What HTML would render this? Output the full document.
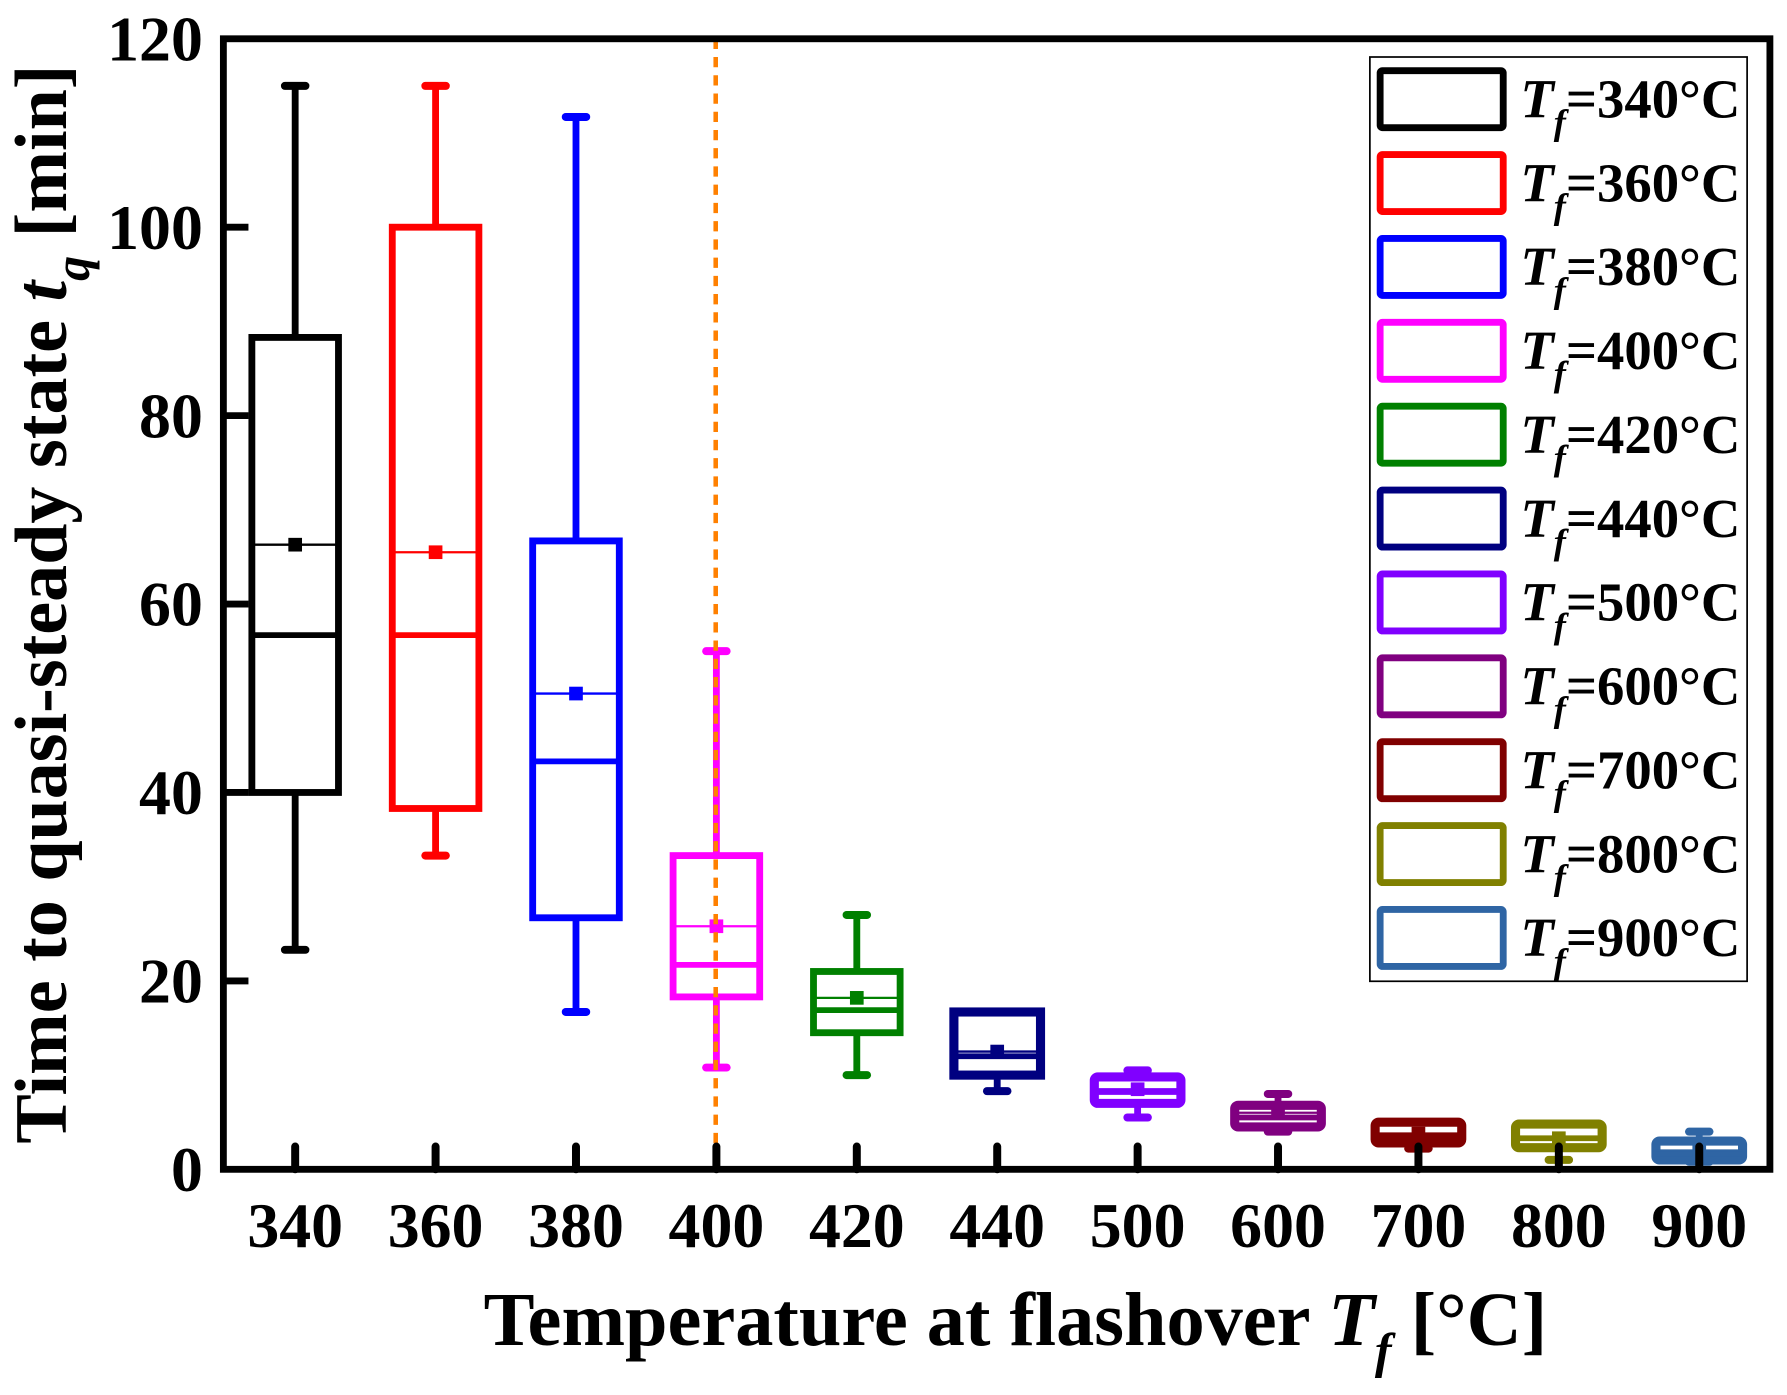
<!DOCTYPE html>
<html><head><meta charset="utf-8"><style>
html,body{margin:0;padding:0;background:#fff}
svg{display:block}
text{font-family:"Liberation Serif","Times New Roman",serif;font-weight:bold;fill:#000}
</style></head><body>
<svg id="chart" width="1787" height="1395" viewBox="0 0 1568 1224" xmlns="http://www.w3.org/2000/svg">
<g id="marks"></g>
<rect x="196" y="34" width="1357" height="992" fill="none" stroke="#000" stroke-width="6"/>
<g id="axes"></g>
<text x="891" y="1180" font-size="67" text-anchor="middle">Temperature at flashover <tspan font-style="italic">T</tspan><tspan font-style="italic" font-size="44" dy="20">f</tspan><tspan dy="-20"> [°C]</tspan></text>
<text transform="translate(58,530) rotate(-90)" font-size="65" text-anchor="middle">Time to quasi-steady state <tspan font-style="italic">t</tspan><tspan font-style="italic" font-size="44" dy="20">q</tspan><tspan dy="-20"> [min]</tspan></text>
<g id="legend"></g>
</svg>
<script>
const categories = ["340","360","380","400","420","440","500","600","700","800","900"];
const colors = ["#000000","#ff0000","#0000ff","#ff00ff","#008000","#000080","#8000ff","#800080","#800000","#808000","#2f65a4"];
const maxV = [115,115,111.7,55,27,16.7,10.5,8,5,4.5,4];
const q3V = [88.3,100,66.7,33.3,21,16.7,9.8,6.8,5,4.8,3];
const meanV = [66.3,65.5,50.5,25.8,18.2,12.5,8.5,6,3.8,3.3,2];
const medV = [56.7,56.7,43.3,21.7,16.9,12,8.2,5.5,3.5,3.3,1.7];
const q1V = [40,38.3,26.7,18.3,14.5,10,7,4.5,2.8,2.3,1];
const minV = [23.3,33.3,16.7,10.8,10,8.3,5.5,4,2.2,1,0.8];
const yTicks = [0,20,40,60,80,100,120];
const NS="http://www.w3.org/2000/svg";
const L=196,R=1553,T=34,B=1026;
const y = v => B - (v/120)*(B-T);
const x = i => 259 + i*123.2;
function mk(tag, attrs, parent){const e=document.createElementNS(NS,tag);for(const k in attrs)e.setAttribute(k,attrs[k]);parent.appendChild(e);return e;}
const marks=document.getElementById('marks'), axes=document.getElementById('axes'), legend=document.getElementById('legend');
categories.forEach((c,i)=>{
  const g=mk('g',{},marks);
  
  
  const col=colors[i], cx=x(i), hw=38;
  const sw = i<5?6:8;
  const w1=mk('line',{x1:cx,x2:cx,y1:y(maxV[i]),y2:y(q3V[i]),stroke:col,'stroke-width':6},g);
  
  
  const w2=mk('line',{x1:cx,x2:cx,y1:y(q1V[i]),y2:y(minV[i]),stroke:col,'stroke-width':6},g);
  
  
  [maxV[i],minV[i]].forEach(v=>{mk('line',{x1:cx-9,x2:cx+9,y1:y(v),y2:y(v),stroke:col,'stroke-width':7,'stroke-linecap':'round'},g);});
  const bx=mk('rect',{x:cx-hw,y:y(q3V[i]),width:2*hw,height:Math.max(1,y(q1V[i])-y(q3V[i])),fill:'#fff',stroke:col,'stroke-width':sw,rx:i>5?3:0},g);
  
  
  const md=mk('line',{x1:cx-hw,x2:cx+hw,y1:y(medV[i]),y2:y(medV[i]),stroke:col,'stroke-width':5},g);
  
  
  mk('line',{x1:cx-hw,x2:cx+hw,y1:y(meanV[i]),y2:y(meanV[i]),stroke:col,'stroke-width':2},g);
  const mn=mk('rect',{x:cx-6,y:y(meanV[i])-6,width:12,height:12,fill:col},g);
  
  
  mk('line',{x1:cx,x2:cx,y1:B,y2:B-20,stroke:'#000','stroke-width':7,'stroke-linecap':'round'},axes);
  const t=mk('text',{x:cx,y:1094,'font-size':56,'text-anchor':'middle'},axes);
  t.textContent=c;
  
  
});
const dl=mk('line',{x1:628,x2:628,y1:T,y2:B,stroke:'#ff8000','stroke-width':4,'stroke-dasharray':'9,7'},marks);


yTicks.forEach(v=>{
  if(v>0&&v<120) mk('line',{x1:L,x2:L+22,y1:y(v),y2:y(v),stroke:'#000','stroke-width':6},axes);
  const t=mk('text',{x:178,y:y(v)+19,'font-size':56,'text-anchor':'end'},axes);
  t.textContent=v;
  
  
});
const lb=mk('rect',{x:1202,y:50,width:331,height:811,fill:'#fff',stroke:'#000','stroke-width':1.5},legend);


categories.forEach((c,i)=>{
  const g=mk('g',{},legend);
  
  
  const yy=62+i*73.6;
  mk('rect',{x:1211,y:yy,width:108,height:50,fill:'none',stroke:colors[i],'stroke-width':6,rx:2},g);
  const t=mk('text',{x:1334,y:yy+41,'font-size':48},g);
  t.innerHTML='<tspan font-style="italic">T</tspan><tspan font-style="italic" font-size="32" dy="15">f</tspan><tspan dy="-15">='+c+'°C</tspan>';
});
</script>
</body></html>
